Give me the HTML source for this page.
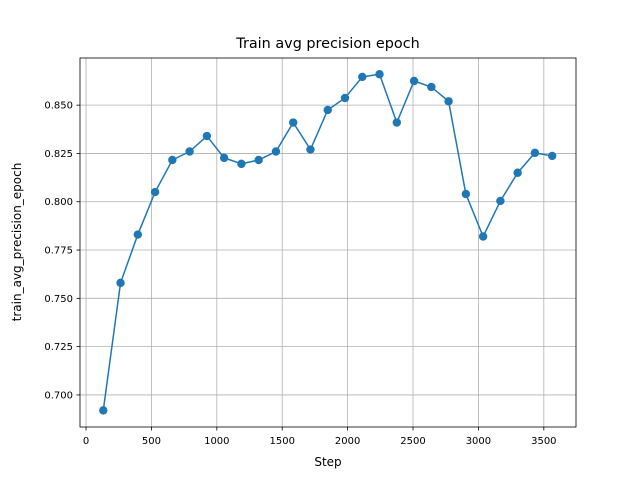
<!DOCTYPE html>
<html><head><meta charset="utf-8"><style>
body{margin:0;background:#fff;}
svg text{font-family:"DejaVu Sans","Liberation Sans",sans-serif;fill:#000;}
</style></head><body>
<svg id="chart" width="640" height="480" xmlns="http://www.w3.org/2000/svg">
<rect width="640" height="480" fill="#fff"/>
<g id="grid"></g><g id="series"></g><g id="axes"></g>
<text x="328" y="48" font-size="14.4" text-anchor="middle">Train avg precision epoch</text>
<text x="328" y="466" font-size="12" text-anchor="middle">Step</text>
<text transform="translate(21,242) rotate(-90)" font-size="12" text-anchor="middle">train_avg_precision_epoch</text>
</svg>
<script>
const steps=[132,264,396,528,660,792,924,1056,1188,1320,1452,1584,1716,1848,1980,2112,2244,2376,2508,2640,2772,2904,3036,3168,3300,3432,3564];
const values=[0.692,0.758,0.783,0.805,0.8216,0.826,0.834,0.8227,0.8196,0.8216,0.826,0.841,0.827,0.8475,0.8537,0.8646,0.866,0.841,0.8625,0.8594,0.852,0.804,0.782,0.8004,0.815,0.8253,0.8237];
const xTicks=[0,500,1000,1500,2000,2500,3000,3500];
const yTicks=[0.700,0.725,0.750,0.775,0.800,0.825,0.850];
const L=80,R=576,T=58,B=427;
const x0=-46,x1=3746,y0=0.6834,y1=0.8744;
const sx=v=>L+(v-x0)/(x1-x0)*(R-L);
const sy=v=>B-(v-y0)/(y1-y0)*(B-T);
const NS="http://www.w3.org/2000/svg";
function mk(p,t,a){const e=document.createElementNS(NS,t);for(const k in a)e.setAttribute(k,a[k]);p.appendChild(e);return e;}
const grid=document.getElementById('grid'),axes=document.getElementById('axes'),ser=document.getElementById('series');
xTicks.forEach(t=>{const x=sx(t);
 const g=mk(grid,'line',{x1:x,x2:x,y1:T,y2:B,stroke:'#b0b0b0','stroke-width':0.8});
 
 
 mk(axes,'line',{x1:x,x2:x,y1:B,y2:B+3.5,stroke:'#000','stroke-width':0.8});
 const tx=mk(axes,'text',{x:x,y:B+17,'font-size':10,'text-anchor':'middle'});tx.textContent=t;
 
 });
yTicks.forEach(t=>{const y=sy(t);
 const g=mk(grid,'line',{x1:L,x2:R,y1:y,y2:y,stroke:'#b0b0b0','stroke-width':0.8});
 
 
 mk(axes,'line',{x1:L-3.5,x2:L,y1:y,y2:y,stroke:'#000','stroke-width':0.8});
 const tx=mk(axes,'text',{x:L-7,y:y+3.5,'font-size':10,'text-anchor':'end'});tx.textContent=t.toFixed(3);
 
 });
const frame=mk(axes,'rect',{x:L,y:T,width:R-L,height:B-T,fill:'none',stroke:'#000','stroke-width':0.8});


const line=mk(ser,'polyline',{points:steps.map((s,i)=>sx(s)+','+sy(values[i])).join(' '),fill:'none',stroke:'#1f77b4','stroke-width':1.5});


steps.forEach((s,i)=>{const c=mk(ser,'circle',{cx:sx(s),cy:sy(values[i]),r:4.2,fill:'#1f77b4'});
 
 });
</script>
</body></html>
